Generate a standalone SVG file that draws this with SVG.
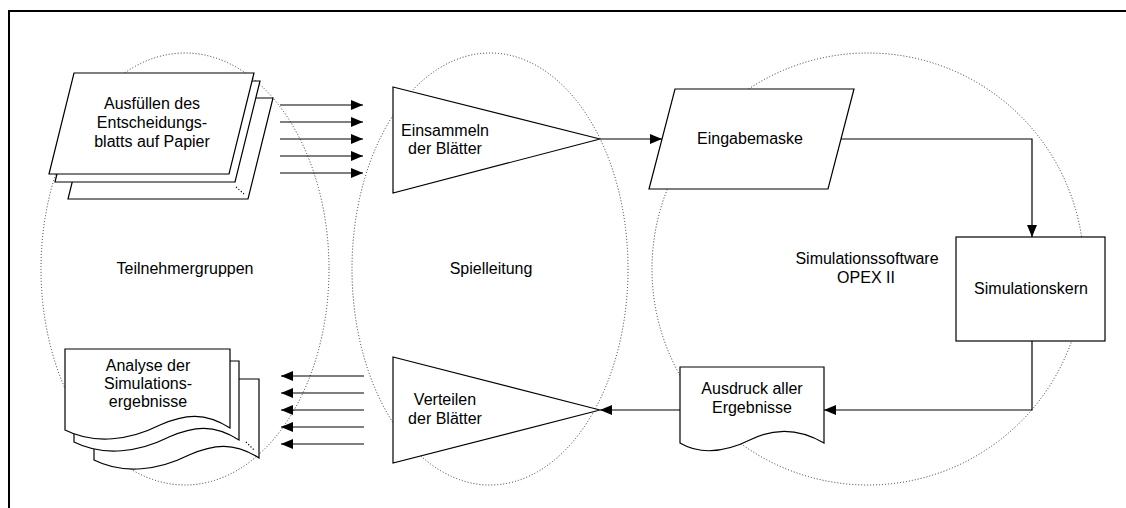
<svg xmlns="http://www.w3.org/2000/svg" width="1126" height="508" viewBox="0 0 1126 508">
  <style>
    .frame { stroke: #000; stroke-width: 2; fill: none; }
    .zone { fill: none; stroke: #333; stroke-width: 1; stroke-dasharray: 1 2; }
    .shape { fill: #fff; stroke: #000; stroke-width: 1.2; }
    .dots { fill: none; stroke: #000; stroke-width: 1.2; stroke-dasharray: 1.2 2; }
    .edge { fill: none; stroke: #000; stroke-width: 1.2; marker-end: url(#arrow); }
    text { font-family: "Liberation Sans", Arial, sans-serif; font-size: 16px; fill: #000; text-anchor: middle; }
  </style>
  <defs>
    <marker id="arrow" markerUnits="userSpaceOnUse" markerWidth="13" markerHeight="11" refX="12" refY="5" orient="auto">
      <path d="M0,0 L12,5 L0,10 Z" fill="#000"/>
    </marker>
  </defs>

  <!-- frame -->
  <path class="frame" d="M9,508 V11 H1126"/>

  <!-- dotted zones -->
  <g id="zone-teilnehmer">
    <ellipse class="zone" cx="185" cy="269" rx="144" ry="216"/>
    <text x="185" y="274">Teilnehmergruppen</text>
  </g>
  <g id="zone-spielleitung">
    <ellipse class="zone" cx="490" cy="269" rx="138" ry="216"/>
    <text x="491" y="274">Spielleitung</text>
  </g>
  <g id="zone-software">
    <ellipse class="zone" cx="868" cy="269" rx="216" ry="216"/>
    <text x="867" y="264">Simulationssoftware</text>
    <text x="866" y="283">OPEX II</text>
  </g>

  <!-- stacked decision sheets -->
  <g id="ausfuellen">
    <polygon class="shape" points="93,98 273,98 248,199 68,199"/>
    <polygon class="shape" points="80,81 260,81 235,182 55,182"/>
    <polygon class="shape" points="74,73 254,73 229,174 49,174"/>
    <path class="dots" d="M236,187 L244,194"/>
    <text x="152" y="109">Ausfüllen des</text>
    <text x="152" y="128">Entscheidungs-</text>
    <text x="152" y="147">blatts auf Papier</text>
  </g>

  <!-- stacked result documents -->
  <g id="analyse">
    <path class="shape" d="M94,379 H259 V458 C234,442 214,444 189,455 C159,470 124,475 94,460 Z"/>
    <path class="shape" d="M74,361 H239 V440 C214,424 194,426 169,437 C139,452 104,457 74,442 Z"/>
    <path class="shape" d="M65,349 H230 V428 C205,412 185,414 160,425 C130,440 95,445 65,430 Z"/>
    <path class="dots" d="M246,442 L254,450"/>
    <text x="148" y="371">Analyse der</text>
    <text x="148" y="389">Simulations-</text>
    <text x="148" y="407">ergebnisse</text>
  </g>

  <g id="einsammeln">
    <polygon class="shape" points="393,87 600,139 393,193"/>
    <text x="445" y="136">Einsammeln</text>
    <text x="445" y="154">der Blätter</text>
  </g>

  <g id="verteilen">
    <polygon class="shape" points="393,357 600,410 393,463"/>
    <text x="445" y="405">Verteilen</text>
    <text x="445" y="424">der Blätter</text>
  </g>

  <g id="eingabemaske">
    <polygon class="shape" points="675,89 854,89 828,189 649,189"/>
    <text x="750" y="144">Eingabemaske</text>
  </g>

  <g id="simulationskern">
    <rect class="shape" x="956" y="237" width="149" height="104"/>
    <text x="1031" y="294">Simulationskern</text>
  </g>

  <g id="ausdruck">
    <path class="shape" d="M680,367 H824 V443 C800,429 775,428 752,439 C728,451 702,456 680,443 Z"/>
    <text x="752" y="394">Ausdruck aller</text>
    <text x="752" y="413">Ergebnisse</text>
  </g>

  <!-- connectors -->
  <g id="connectors">
    <line class="edge" x1="280" y1="105" x2="363" y2="105"/>
    <line class="edge" x1="280" y1="122" x2="363" y2="122"/>
    <line class="edge" x1="280" y1="139" x2="363" y2="139"/>
    <line class="edge" x1="280" y1="156" x2="363" y2="156"/>
    <line class="edge" x1="280" y1="173" x2="363" y2="173"/>

    <line class="edge" x1="600" y1="139" x2="662" y2="139"/>
    <path class="edge" d="M841,139 H1032 V237"/>
    <path class="edge" d="M1032,341 V410 H824"/>
    <line class="edge" x1="680" y1="410" x2="600" y2="410"/>

    <line class="edge" x1="364" y1="376" x2="281" y2="376"/>
    <line class="edge" x1="364" y1="393" x2="281" y2="393"/>
    <line class="edge" x1="364" y1="410" x2="281" y2="410"/>
    <line class="edge" x1="364" y1="427" x2="281" y2="427"/>
    <line class="edge" x1="364" y1="444" x2="281" y2="444"/>
  </g>
</svg>
